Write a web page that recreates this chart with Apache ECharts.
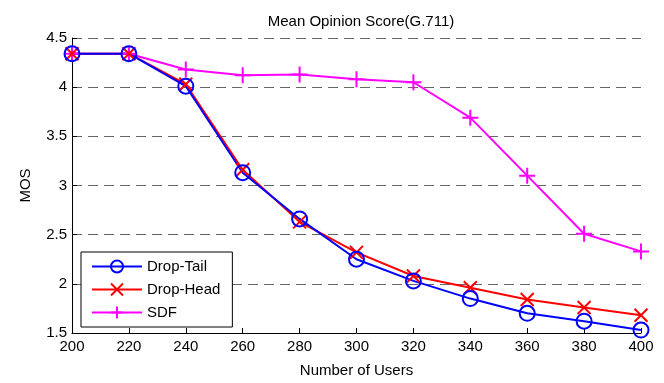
<!DOCTYPE html>
<html><head><meta charset="utf-8">
<script src="https://cdn.jsdelivr.net/npm/echarts@6/dist/echarts.min.js"></script>
<style>html,body{margin:0;padding:0;background:#fff}#c{width:664px;height:383px}</style>
</head><body><div id="c"></div>
<script>
var users = [200, 220, 240, 260, 280, 300, 320, 340, 360, 380, 400];
var dropTail = [4.34, 4.34, 4.01, 3.13, 2.66, 2.25, 2.03, 1.85, 1.70, 1.62, 1.53];
var dropHead = [4.34, 4.34, 4.03, 3.16, 2.63, 2.32, 2.08, 1.96, 1.84, 1.76, 1.68];
var sdf = [4.34, 4.34, 4.18, 4.12, 4.13, 4.08, 4.05, 3.69, 3.10, 2.51, 2.33];
var yTicks = [1.5, 2, 2.5, 3, 3.5, 4, 4.5];

function pairs(v){ return users.map(function(u,i){ return [u, v[i]]; }); }
var font = 'Liberation Sans, Arial, sans-serif';
function mk(name, data, color, symbol, size){
  return {
    name: name, type: 'line', data: pairs(data),
    symbol: symbol, symbolSize: size, showSymbol: true,
    lineStyle: {color: color, width: 2},
    itemStyle: {color: 'rgba(0,0,0,0)', borderColor: color, borderWidth: 2},
    emphasis: {disabled: true}, animation: false
  };
}
var chart = echarts.init(document.getElementById('c'), null, {renderer: 'canvas'});
chart.setOption({
  animation: false,
  title: {text: 'Mean Opinion Score(G.711)', left: 356, top: 9, textAlign: 'center',
    textStyle: {fontFamily: font, fontSize: 15, fontWeight: 'normal', color: '#000'}},
  grid: {left: 72, right: 23, top: 38, bottom: 47},
  xAxis: {type: 'value', min: 200, max: 400, interval: 20,
    name: 'Number of Users', nameLocation: 'middle', nameGap: 30,
    nameTextStyle: {fontFamily: font, fontSize: 15, color: '#000'},
    axisLine: {lineStyle: {color: '#000', width: 1}},
    axisTick: {inside: true, length: 5, lineStyle: {color: '#000'}},
    axisLabel: {fontFamily: font, fontSize: 15, color: '#000', margin: 6},
    splitLine: {show: false}},
  yAxis: {type: 'value', min: 1.5, max: 4.5, interval: 0.5,
    name: 'MOS', nameLocation: 'middle', nameGap: 39, nameRotate: 90,
    nameTextStyle: {fontFamily: font, fontSize: 15, color: '#000'},
    axisLine: {show: true, lineStyle: {color: '#000', width: 1}},
    axisTick: {show: true, inside: true, length: 5, lineStyle: {color: '#000'}},
    axisLabel: {fontFamily: font, fontSize: 15, color: '#000', margin: 5,
      formatter: function(v){ return yTicks.indexOf(v) >= 0 ? String(v) : ''; }},
    splitLine: {show: true, lineStyle: {color: '#666', type: [10, 6], width: 1}}},
  legend: {orient: 'vertical', left: 81, top: 252,
    backgroundColor: '#fff', borderColor: '#000', borderWidth: 1, borderRadius: 0,
    padding: [7, 12, 7, 10], itemGap: 8, itemWidth: 50, itemHeight: 15,
    textStyle: {fontFamily: font, fontSize: 15, color: '#000'},
    data: ['Drop-Tail', 'Drop-Head', 'SDF']},
  series: [
    mk('SDF', sdf, '#ff00ff', 'path://M5,0L5,10M0,5L10,5', 16),
    mk('Drop-Head', dropHead, '#ff0000', 'path://M0,0L10,10M0,10L10,0', 13),
    mk('Drop-Tail', dropTail, '#0000ff', 'circle', 15)
  ]
});
</script></body></html>
